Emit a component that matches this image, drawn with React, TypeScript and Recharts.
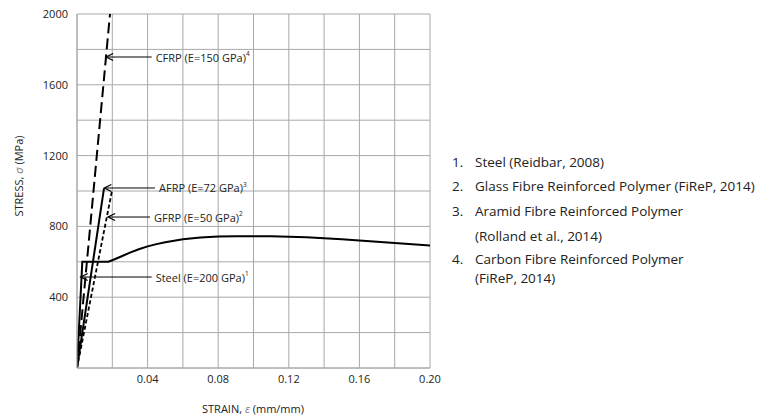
import { LineChart, Line, XAxis, YAxis, CartesianGrid, ReferenceLine } from 'recharts';

// stress-strain curves (strain mm/mm, stress MPa)
const steelStrain = [0, 0.003, 0.0178, 0.02, 0.025, 0.03, 0.035, 0.04, 0.045, 0.05, 0.06, 0.07, 0.08, 0.09, 0.1, 0.11, 0.12, 0.13, 0.14, 0.15, 0.16, 0.17, 0.18, 0.19, 0.2];
const steelStress = [0, 600, 600, 609, 630, 652, 671, 687, 700, 710, 727, 737, 743, 745, 745, 744, 742, 738, 733, 727, 720, 713, 706, 699, 692];

const gfrpStrain = [0, 0.0198];
const gfrpStress = [0, 1000];

const afrpStrain = [0, 0.0153];
const afrpStress = [0, 1015];

const cfrpStrain = [0, 0.0187];
const cfrpStress = [0, 2000];

const xTicks = [0, 0.02, 0.04, 0.06, 0.08, 0.1, 0.12, 0.14, 0.16, 0.18, 0.2];
const yTicks = [0, 200, 400, 600, 800, 1000, 1200, 1400, 1600, 1800, 2000];

// annotation callouts: arrow tip on curve, end of leader line
const noteLabels = ['CFRP (E=150 GPa)', 'AFRP (E=72 GPa)', 'GFRP (E=50 GPa)', 'Steel (E=200 GPa)'];
const noteRefs = ['4', '3', '2', '1'];
const noteTipX = [0.0165, 0.0155, 0.0176, 0.0021];
const noteTipY = [1757, 1017, 853, 514];
const noteEndX = [0.0423, 0.0442, 0.0414, 0.0423];

const sourceNums = ['1.', '2.', '3.', '', '4.', ''];
const sourceLines = [
  'Steel (Reidbar, 2008)',
  'Glass Fibre Reinforced Polymer (FiReP, 2014)',
  'Aramid Fibre Reinforced Polymer',
  '(Rolland et al., 2014)',
  'Carbon Fibre Reinforced Polymer',
  '(FiReP, 2014)',
];
const sourceTops = [153, 177, 202, 227, 250, 269];

const toPoints = (xs: number[], ys: number[]) => xs.map((x, i) => ({ x, y: ys[i] }));

const FONT = '"Open Sans", "Liberation Sans", sans-serif';

const ArrowNote = (props: any) => {
  const { x1, y1, x2, y2, label, refNo } = props;
  return (
    <g>
      <line x1={x1} y1={y1} x2={x2} y2={y2} stroke="#000" strokeWidth={1} />
      <polyline
        points={`${x1 + 7},${y1 - 3.5} ${x1},${y1} ${x1 + 7},${y1 + 3.5}`}
        fill="none"
        stroke="#000"
        strokeWidth={1.3}
      />
      <text x={x2 + 4} y={y2} dominantBaseline="central" fontSize={11} fill="#222" fontFamily={FONT}>
        {label}
        <tspan fontSize={6.5} dy={-4}>{refNo}</tspan>
      </text>
    </g>
  );
};

export default function App() {
  return (
    <div style={{ position: 'absolute', left: 0, top: 0, width: 768, height: 417, background: '#fff' }}>
      <LineChart width={768} height={417} margin={{ top: 14, right: 338, bottom: 0, left: 0 }}>
        <CartesianGrid stroke="#a8a8a8" strokeWidth={1} horizontalValues={yTicks} verticalValues={xTicks} />
        <XAxis
          type="number"
          dataKey="x"
          domain={[0, 0.2]}
          ticks={xTicks}
          allowDataOverflow
          height={49}
          axisLine={{ stroke: '#a8a8a8' }}
          tickLine={false}
          tickMargin={1}
          tick={{ fontSize: 11, fill: '#222', fontFamily: FONT }}
          tickFormatter={(v: number) => (v > 0 && Math.round(v * 100) % 4 === 0 ? v.toFixed(2) : '')}
        />
        <YAxis
          type="number"
          dataKey="y"
          domain={[0, 2000]}
          ticks={yTicks}
          allowDataOverflow
          width={77}
          axisLine={{ stroke: '#a8a8a8' }}
          tickLine={false}
          tickMargin={3}
          tick={{ fontSize: 11, fill: '#222', fontFamily: FONT }}
          tickFormatter={(v: number) => (v > 0 && v % 400 === 0 ? String(v) : '')}
        />
        <Line data={toPoints(steelStrain, steelStress)} dataKey="y" type="linear" stroke="#000" strokeWidth={2} dot={false} isAnimationActive={false} />
        <Line data={toPoints(gfrpStrain, gfrpStress)} dataKey="y" type="linear" stroke="#000" strokeWidth={1.8} strokeDasharray="4 2.5" dot={false} isAnimationActive={false} />
        <Line data={toPoints(afrpStrain, afrpStress)} dataKey="y" type="linear" stroke="#000" strokeWidth={2} dot={false} isAnimationActive={false} />
        <Line data={toPoints(cfrpStrain, cfrpStress)} dataKey="y" type="linear" stroke="#000" strokeWidth={2} strokeDasharray="11 5" dot={false} isAnimationActive={false} />
        {noteLabels.map((label, i) => (
          <ReferenceLine
            key={label}
            segment={[
              { x: noteTipX[i], y: noteTipY[i] },
              { x: noteEndX[i], y: noteTipY[i] },
            ]}
            shape={(p: any) => <ArrowNote {...p} label={label} refNo={noteRefs[i]} />}
          />
        ))}
      </LineChart>
      <svg width={768} height={417} style={{ position: 'absolute', left: 0, top: 0, pointerEvents: 'none' }}>
        <text x={18} y={176} transform="rotate(-90 18 176)" textAnchor="middle" dominantBaseline="central" fontSize={11} fill="#222" fontFamily={FONT}>
          STRESS, <tspan fontStyle="italic" fill="#777">σ</tspan> (MPa)
        </text>
        <text x={253} y={408} textAnchor="middle" dominantBaseline="central" fontSize={11} fill="#222" fontFamily={FONT}>
          STRAIN, <tspan fontStyle="italic" fill="#777">ε</tspan> (mm/mm)
        </text>
      </svg>
      {sourceLines.map((line, i) => (
        <div
          key={line}
          style={{ position: 'absolute', left: 452, top: sourceTops[i], fontFamily: FONT, fontSize: 13.5, color: '#222', whiteSpace: 'nowrap', lineHeight: '18px' }}
        >
          <span style={{ display: 'inline-block', width: 23 }}>{sourceNums[i]}</span>
          {line}
        </div>
      ))}
    </div>
  );
}
